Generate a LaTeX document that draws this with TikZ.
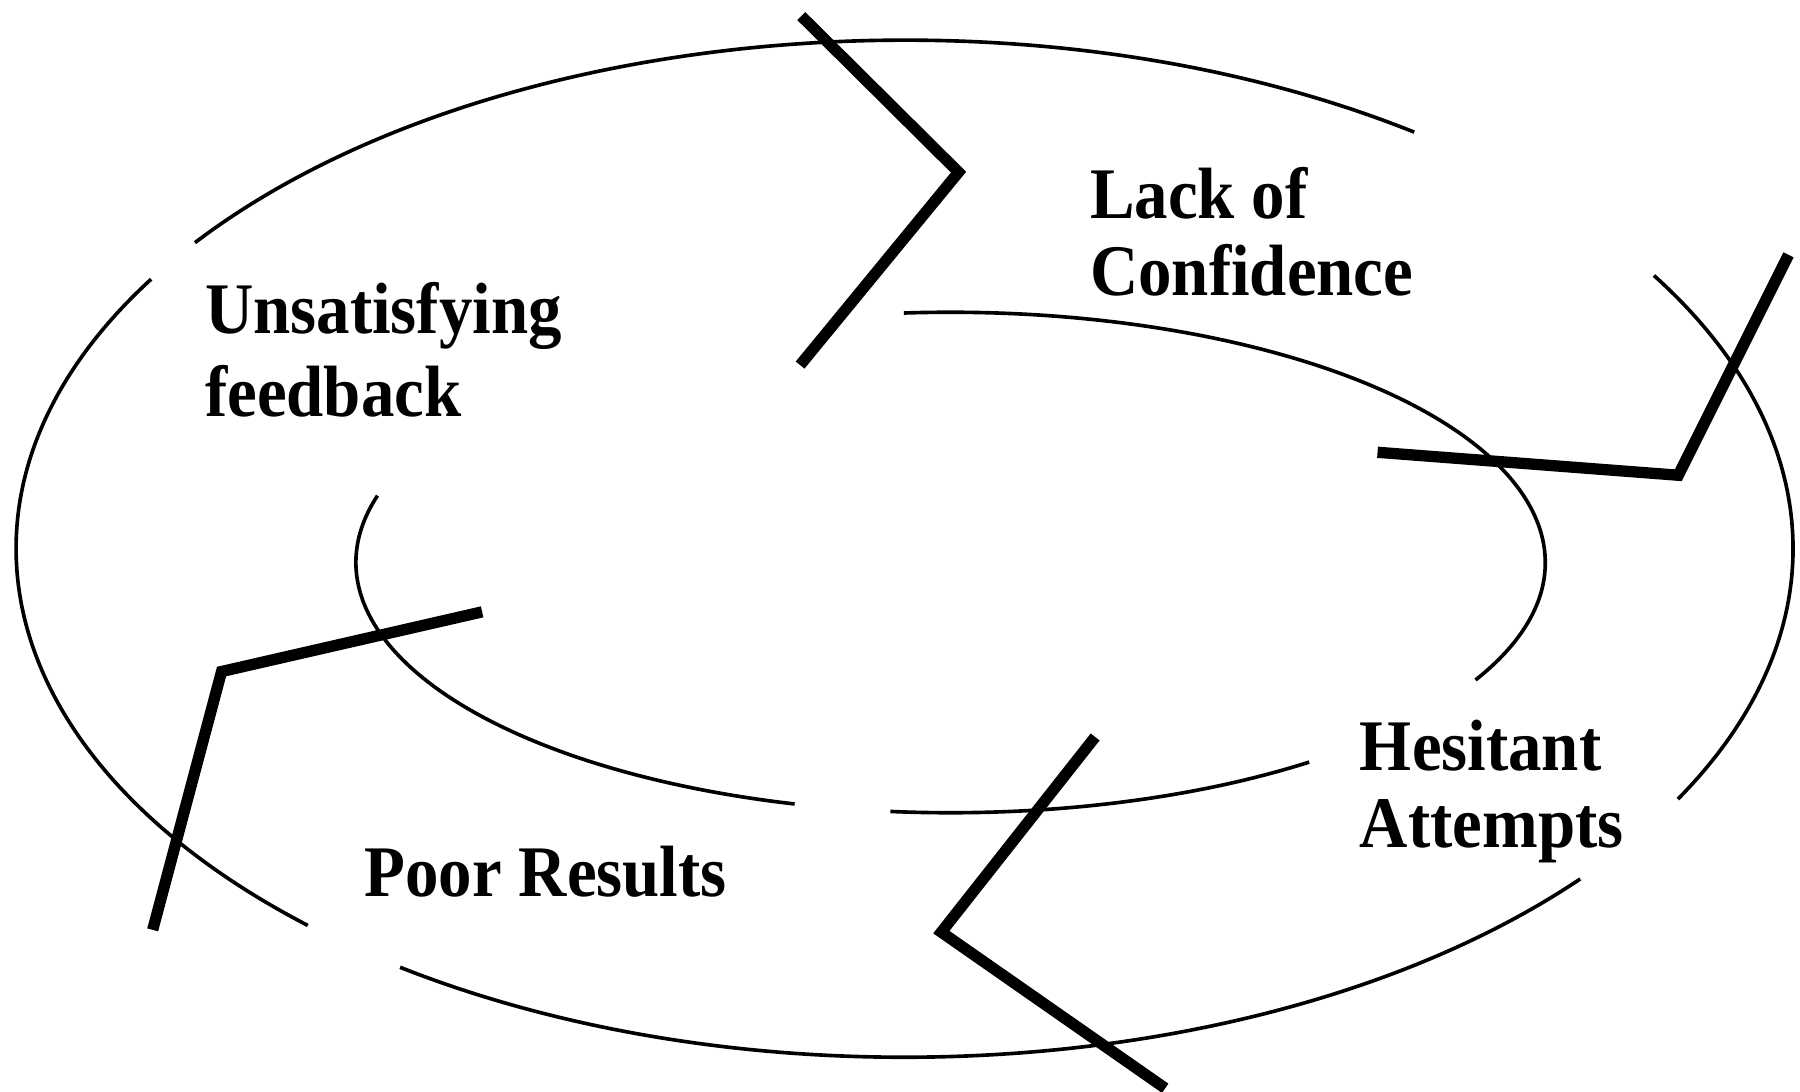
\documentclass[tikz,border=0pt]{standalone}
\usepackage{fontspec}
\newfontfamily\lblfont{Liberation Serif}[FakeStretch=0.92]
\begin{document}
\begin{tikzpicture}[x=0.01cm,y=0.01cm,
  ring/.style={line width=0.9pt},
  chev/.style={line width=2.8pt, line join=miter},
  lbl/.style={font=\lblfont\bfseries\fontsize{18pt}{#1}\selectfont, align=left, anchor=base west, inner sep=0pt}]
\useasboundingbox (0,0) rectangle (1568,951);
% outer ring
\coordinate (oc) at (788,473);
\draw[ring] (oc) ++(55:774 and 443) arc[start angle=55, end angle=143, x radius=774, y radius=443];
\draw[ring] (oc) ++(-29.5:774 and 443) arc[start angle=-29.5, end angle=32.5, x radius=774, y radius=443];
\draw[ring] (oc) ++(235.4:774 and 443) arc[start angle=235.4, end angle=319.5, x radius=774, y radius=443];
\draw[ring] (oc) ++(148:774 and 443) arc[start angle=148, end angle=227.8, x radius=774, y radius=443];
% inner ring
\coordinate (ic) at (828,461);
\draw[ring] (ic) ++(-28:518 and 218) arc[start angle=-28, end angle=94.5, x radius=518, y radius=218];
\draw[ring] (ic) ++(264.2:518 and 218) arc[start angle=264.2, end angle=307.1, x radius=518, y radius=218];
\draw[ring] (ic) ++(164.5:518 and 218) arc[start angle=164.5, end angle=254.8, x radius=518, y radius=218];
% chevrons
\draw[chev] (698,937) -- (835,801) -- (697,633);
\draw[chev] (1558,729) -- (1462,537) -- (1200,557);
\draw[chev] (954,309) -- (820,139) -- (1015,3);
\draw[chev] (420,418) -- (193,366) -- (133,141);
% labels (base = last line's baseline)
\node[lbl=20.7pt] (unsat) at (178,588) {Unsatisfying\\feedback};
\node[lbl=19pt] (lack) at (949,694) {Lack of\\Confidence};
\node[lbl=18.9pt] (hes) at (1184,213) {Hesitant\\Attempts};
\node[lbl=19pt] (poor) at (317,170) {Poor Results};
\end{tikzpicture}
\end{document}
